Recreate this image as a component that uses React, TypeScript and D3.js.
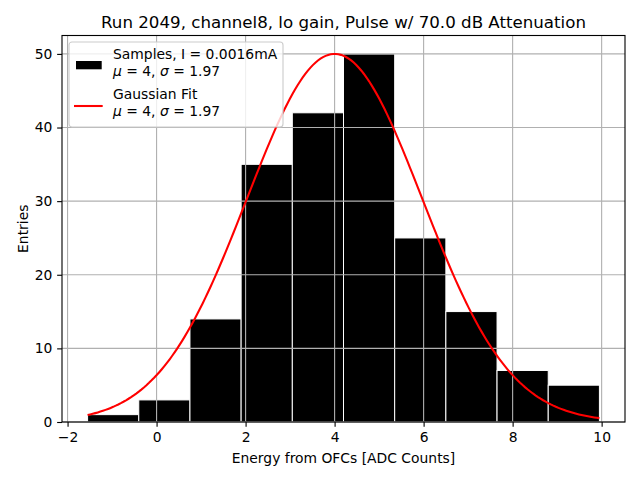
import * as d3 from "d3";
import { useEffect, useRef } from "react";

const binEdges = [-1.55, -0.4, 0.75, 1.9, 3.05, 4.2, 5.35, 6.5, 7.65, 8.8, 9.95];
const counts = [1, 3, 14, 35, 42, 50, 25, 15, 7, 5];
const xTicks = [-2, 0, 2, 4, 6, 8, 10];
const yTicks = [0, 10, 20, 30, 40, 50];
const fitMu = 4;
const fitSigma = 1.97;
const fitPeak = 50;

export default function App() {
  const ref = useRef<SVGSVGElement>(null);

  useEffect(() => {
    if (!ref.current) return;
    const el = ref.current;
    d3.select(el).selectAll("*").remove();

    const W = 640;
    const H = 480;
    const margin = { top: 35.5, right: 15, bottom: 58, left: 62 };
    const w = W - margin.left - margin.right;
    const h = H - margin.top - margin.bottom;
    const font = "DejaVu Sans, sans-serif";
    const pt = 100 / 72;

    const svg = d3.select(el).attr("width", W).attr("height", H).attr("viewBox", `0 0 ${W} ${H}`);
    svg.append("rect").attr("width", W).attr("height", H).attr("fill", "#fff");

    const lo = binEdges[0];
    const hi = binEdges[binEdges.length - 1];
    const pad = (hi - lo) * 0.05;
    const x = d3.scaleLinear().domain([lo - pad, hi + pad]).range([0, w]);
    const y = d3.scaleLinear().domain([0, d3.max(counts)! * 1.05]).range([h, 0]);

    const g = svg.append("g").attr("transform", `translate(${margin.left},${margin.top})`);

    // bars
    g.selectAll(".bar")
      .data(counts)
      .join("rect")
      .attr("x", (_, i) => x(binEdges[i]))
      .attr("y", d => y(d))
      .attr("width", (_, i) => x(binEdges[i + 1]) - x(binEdges[i]))
      .attr("height", d => y(0) - y(d))
      .attr("fill", "#000")
      .attr("stroke", "#fff")
      .attr("stroke-width", 1);

    // grid (above bars, below line)
    g.selectAll(".gx")
      .data(xTicks)
      .join("line")
      .attr("x1", d => x(d))
      .attr("x2", d => x(d))
      .attr("y1", 0)
      .attr("y2", h)
      .attr("stroke", "#b0b0b0")
      .attr("stroke-width", 0.8 * pt);
    g.selectAll(".gy")
      .data(yTicks)
      .join("line")
      .attr("x1", 0)
      .attr("x2", w)
      .attr("y1", d => y(d))
      .attr("y2", d => y(d))
      .attr("stroke", "#b0b0b0")
      .attr("stroke-width", 0.8 * pt);

    // gaussian fit
    const xs = d3.range(0, 201).map(i => lo + ((hi - lo) * i) / 200);
    const gauss = (v: number) => fitPeak * Math.exp(-((v - fitMu) ** 2) / (2 * fitSigma * fitSigma));
    g.append("path")
      .datum(xs)
      .attr("fill", "none")
      .attr("stroke", "red")
      .attr("stroke-width", 1.5 * pt)
      .attr("d", d3.line<number>().x(d => x(d)).y(d => y(gauss(d))));

    // frame
    g.append("rect")
      .attr("width", w)
      .attr("height", h)
      .attr("fill", "none")
      .attr("stroke", "#000")
      .attr("stroke-width", 0.8 * pt);

    // axes
    const tick = 3.5 * pt;
    const xa = g.append("g").attr("transform", `translate(0,${h})`)
      .call(d3.axisBottom(x).tickValues(xTicks).tickSize(tick).tickPadding(tick).tickFormat(d => String(d).replace("-", "\u2212")));
    const ya = g.append("g")
      .call(d3.axisLeft(y).tickValues(yTicks).tickSize(tick).tickPadding(tick));
    [xa, ya].forEach(a => {
      a.select(".domain").remove();
      a.selectAll("line").attr("stroke", "#000").attr("stroke-width", 0.8 * pt);
      a.selectAll("text").attr("font-family", font).attr("font-size", 10 * pt).attr("fill", "#000");
    });

    // labels
    svg.append("text")
      .attr("x", margin.left + w / 2)
      .attr("y", 27.5)
      .attr("text-anchor", "middle")
      .attr("font-family", font)
      .attr("font-size", 12 * pt)
      .text("Run 2049, channel8, lo gain, Pulse w/ 70.0 dB Attenuation");
    svg.append("text")
      .attr("x", margin.left + w / 2)
      .attr("y", 462.5)
      .attr("text-anchor", "middle")
      .attr("font-family", font)
      .attr("font-size", 10 * pt)
      .text("Energy from OFCs [ADC Counts]");
    svg.append("text")
      .attr("transform", `translate(27.5,${margin.top + h / 2}) rotate(-90)`)
      .attr("text-anchor", "middle")
      .attr("font-family", font)
      .attr("font-size", 10 * pt)
      .text("Entries");

    // legend
    const lg = svg.append("g").attr("transform", "translate(69,42)");
    lg.append("rect")
      .attr("width", 214)
      .attr("height", 85)
      .attr("rx", 3)
      .attr("fill", "#fff")
      .attr("fill-opacity", 0.8)
      .attr("stroke", "#cccccc")
      .attr("stroke-width", 0.8 * pt);
    lg.append("rect").attr("x", 7).attr("y", 19).attr("width", 25.7).attr("height", 8.3).attr("fill", "#000");
    lg.append("line").attr("x1", 5).attr("x2", 33.7).attr("y1", 64).attr("y2", 64).attr("stroke", "red").attr("stroke-width", 1.5 * pt);

    const addLines = (y0: number, first: string) => {
      lg.append("text")
        .attr("x", 44)
        .attr("y", y0)
        .attr("font-family", font)
        .attr("font-size", 10 * pt)
        .text(first);
      const t = lg.append("text")
        .attr("x", 44)
        .attr("y", y0 + 17)
        .attr("font-family", font)
        .attr("font-size", 10 * pt);
      t.append("tspan").attr("font-style", "italic").text("\u03bc");
      t.append("tspan").text(` = ${fitMu}, `);
      t.append("tspan").attr("font-style", "italic").text("\u03c3");
      t.append("tspan").text(` = ${fitSigma}`);
    };
    addLines(17, "Samples, I = 0.0016mA");
    addLines(57, "Gaussian Fit");
  }, []);

  return <svg ref={ref} style={{ display: "block", position: "absolute", left: 0, top: 0 }} />;
}
